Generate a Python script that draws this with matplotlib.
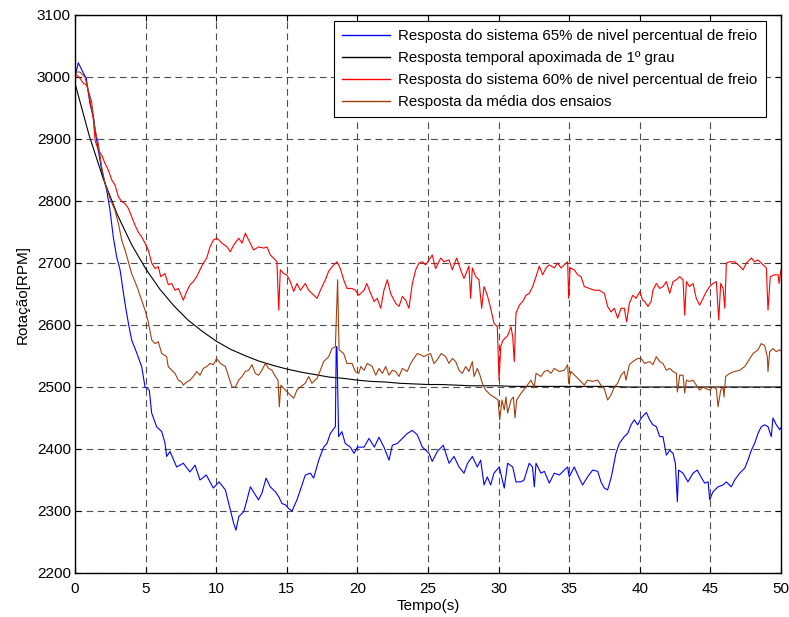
import numpy as np
import matplotlib
matplotlib.use("Agg")
import matplotlib.pyplot as plt

plt.rcParams['font.family'] = ['Liberation Sans', 'DejaVu Sans']

# ensaio com 65% de freio: (tempo [s], rotacao [RPM])
resp_65 = [
    (0, 3000), (0.23, 3023), (0.6, 3006), (0.8, 2998), (1.06, 2957), (1.3, 2936),
    (1.49, 2904), (1.89, 2850), (2.24, 2818), (2.48, 2785), (2.71, 2742), (2.95, 2710),
    (3.19, 2689), (3.54, 2635), (3.78, 2603), (4.01, 2576), (4.37, 2555), (4.72, 2533),
    (4.96, 2500), (5.26, 2495), (5.43, 2458), (5.78, 2436), (6.14, 2428), (6.37, 2410),
    (6.49, 2388), (6.73, 2396), (7.2, 2371), (7.67, 2377), (8.14, 2363), (8.5, 2374),
    (8.85, 2350), (9.3, 2358), (9.8, 2337), (10.2, 2347), (10.65, 2334), (11.0, 2302),
    (11.24, 2280), (11.4, 2269), (11.6, 2291), (11.95, 2299), (12.18, 2318), (12.42, 2339),
    (12.77, 2326), (13.0, 2318), (13.24, 2329), (13.53, 2353), (13.83, 2339), (14.19, 2331),
    (14.43, 2323), (14.66, 2312), (14.9, 2310), (15.13, 2304), (15.37, 2300), (15.72, 2318),
    (15.96, 2334), (16.31, 2358), (16.67, 2361), (16.9, 2353), (17.26, 2382), (17.61, 2403),
    (17.85, 2409), (18.08, 2425), (18.44, 2436), (18.5, 2565), (18.55, 2565), (18.67, 2420),
    (18.9, 2428), (19.14, 2409), (19.5, 2403), (19.76, 2393), (20.0, 2403), (20.47, 2403),
    (20.82, 2417), (21.2, 2403), (21.53, 2419), (21.88, 2403), (22.24, 2382), (22.47, 2406),
    (22.83, 2409), (23.18, 2417), (23.53, 2425), (23.89, 2430), (24.24, 2423), (24.6, 2403),
    (25.07, 2393), (25.3, 2380), (25.66, 2396), (26.08, 2406), (26.49, 2377), (26.84, 2388),
    (27.2, 2371), (27.55, 2361), (27.8, 2377), (28.14, 2388), (28.49, 2371), (28.73, 2382),
    (28.97, 2342), (29.2, 2355), (29.44, 2342), (29.67, 2361), (30.05, 2371), (30.4, 2337),
    (30.64, 2377), (31.0, 2371), (31.23, 2347), (31.59, 2347), (31.8, 2350), (32.17, 2377),
    (32.4, 2371), (32.53, 2339), (32.65, 2377), (33.0, 2361), (33.24, 2364), (33.59, 2345),
    (33.94, 2361), (34.3, 2358), (34.65, 2366), (34.89, 2371), (35.0, 2355), (35.36, 2371),
    (35.71, 2353), (35.95, 2342), (36.3, 2355), (36.66, 2366), (37.02, 2364), (37.25, 2347),
    (37.49, 2337), (37.72, 2334), (37.96, 2353), (38.08, 2366), (38.31, 2393), (38.55, 2409),
    (38.9, 2420), (39.14, 2425), (39.38, 2439), (39.61, 2447), (39.85, 2439), (40.1, 2450),
    (40.46, 2459), (40.7, 2447), (40.93, 2439), (41.17, 2436), (41.41, 2420), (41.64, 2420),
    (41.88, 2390), (42.12, 2398), (42.35, 2393), (42.52, 2377), (42.66, 2315), (42.75, 2366),
    (43.06, 2361), (43.41, 2347), (43.77, 2361), (44.07, 2366), (44.38, 2353), (44.6, 2345),
    (44.84, 2347), (44.95, 2318), (45.18, 2331), (45.54, 2339), (45.9, 2342), (46.13, 2347),
    (46.48, 2339), (46.72, 2350), (47.07, 2361), (47.43, 2369), (47.66, 2382), (47.9, 2398),
    (48.13, 2409), (48.37, 2425), (48.6, 2436), (48.84, 2439), (49.08, 2436), (49.31, 2420),
    (49.43, 2450), (49.67, 2439), (49.91, 2431), (50.0, 2435),
]

# modelo de 1a ordem, amostrado a cada 1 s
t_modelo = np.arange(0, 51)
rpm_modelo = [
    2990, 2906, 2836, 2778, 2730, 2691, 2658, 2631, 2608, 2590,
    2574, 2561, 2551, 2542, 2535, 2529, 2524, 2520, 2516, 2514,
    2511, 2509, 2508, 2506, 2505, 2504, 2504, 2503, 2502, 2502,
    2502, 2501, 2501, 2501, 2501, 2501, 2501, 2501, 2501, 2500,
    2500, 2500, 2500, 2500, 2500, 2500, 2500, 2500, 2500, 2500,
    2500,
]

# ensaio com 60% de freio
resp_60 = [
    (0, 3006), (0.35, 2998), (0.59, 2990), (0.83, 2987), (1.06, 2963), (1.3, 2931),
    (1.42, 2898), (1.65, 2882), (1.89, 2874), (2.12, 2861), (2.36, 2850), (2.6, 2834),
    (2.83, 2826), (3.07, 2807), (3.31, 2799), (3.54, 2796), (3.78, 2788), (4.01, 2775),
    (4.25, 2761), (4.48, 2750), (4.72, 2742), (4.96, 2732), (5.19, 2721), (5.43, 2700),
    (5.67, 2691), (5.9, 2694), (6.07, 2678), (6.37, 2683), (6.61, 2665), (6.85, 2667),
    (7.08, 2656), (7.32, 2659), (7.56, 2646), (7.67, 2640), (7.91, 2654), (8.15, 2665),
    (8.38, 2670), (8.62, 2678), (8.85, 2689), (9.09, 2700), (9.33, 2708), (9.56, 2726),
    (9.8, 2737), (10.06, 2740), (10.41, 2732), (10.77, 2726), (11.0, 2718), (11.24, 2729),
    (11.59, 2740), (11.83, 2732), (12.06, 2748), (12.3, 2737), (12.65, 2721), (13.0, 2726),
    (13.36, 2724), (13.6, 2726), (13.83, 2713), (14.19, 2705), (14.3, 2702), (14.43, 2624),
    (14.54, 2689), (14.78, 2683), (15.0, 2681), (15.25, 2670), (15.49, 2654), (15.72, 2667),
    (15.96, 2656), (16.31, 2667), (16.55, 2656), (16.78, 2651), (17.14, 2643), (17.38, 2656),
    (17.73, 2673), (17.97, 2687), (18.25, 2695), (18.56, 2702), (18.79, 2691), (19.03, 2673),
    (19.26, 2659), (19.62, 2659), (19.85, 2656), (20.1, 2648), (20.47, 2656), (20.66, 2667),
    (20.94, 2651), (21.18, 2638), (21.4, 2643), (21.65, 2627), (21.88, 2656), (22.12, 2673),
    (22.35, 2651), (22.71, 2635), (22.95, 2630), (23.18, 2646), (23.42, 2640), (23.65, 2627),
    (23.89, 2667), (24.13, 2689), (24.36, 2700), (24.6, 2702), (24.83, 2697), (25.07, 2705),
    (25.3, 2713), (25.54, 2691), (25.9, 2708), (26.13, 2702), (26.49, 2705), (26.72, 2689),
    (27.03, 2708), (27.31, 2689), (27.55, 2675), (27.9, 2695), (28.02, 2643), (28.14, 2692),
    (28.38, 2678), (28.61, 2673), (28.8, 2627), (28.97, 2662), (29.2, 2648), (29.44, 2627),
    (29.67, 2603), (29.91, 2597), (30.03, 2511), (30.15, 2565), (30.3, 2575), (30.64, 2583),
    (30.88, 2597), (31.0, 2581), (31.11, 2541), (31.23, 2619), (31.47, 2632), (31.71, 2638),
    (31.94, 2648), (32.17, 2651), (32.41, 2662), (32.65, 2678), (32.88, 2695), (33.12, 2681),
    (33.36, 2692), (33.59, 2697), (33.94, 2692), (34.18, 2700), (34.42, 2692), (34.65, 2697),
    (34.89, 2702), (34.96, 2643), (35.06, 2692), (35.36, 2689), (35.6, 2681), (35.84, 2678),
    (36.07, 2662), (36.43, 2659), (36.78, 2656), (37.14, 2656), (37.49, 2651), (37.72, 2630),
    (37.96, 2621), (38.2, 2627), (38.43, 2611), (38.67, 2627), (38.9, 2627), (39.07, 2605),
    (39.26, 2635), (39.5, 2648), (39.73, 2643), (40.01, 2654), (40.2, 2640), (40.34, 2638),
    (40.58, 2630), (40.8, 2638), (40.93, 2656), (41.17, 2667), (41.41, 2659), (41.64, 2662),
    (41.88, 2670), (42.12, 2651), (42.35, 2670), (42.59, 2673), (42.83, 2678), (43.06, 2673),
    (43.18, 2616), (43.3, 2670), (43.53, 2662), (43.77, 2667), (44.0, 2643), (44.24, 2632),
    (44.48, 2643), (44.71, 2654), (44.95, 2662), (45.18, 2667), (45.42, 2670), (45.59, 2608),
    (45.73, 2667), (45.9, 2659), (46.02, 2627), (46.13, 2700), (46.37, 2702), (46.72, 2702),
    (47.07, 2695), (47.31, 2689), (47.55, 2700), (47.9, 2708), (48.13, 2702), (48.37, 2705),
    (48.6, 2700), (48.84, 2695), (48.96, 2692), (49.08, 2624), (49.24, 2678), (49.55, 2681),
    (49.8, 2681), (49.86, 2667), (50.0, 2689),
]

# media dos ensaios
resp_media = [
    (0, 3008), (0.35, 3008), (0.7, 3000), (0.94, 2979), (1.18, 2960), (1.42, 2915),
    (1.65, 2893), (1.89, 2855), (2.12, 2829), (2.48, 2804), (2.83, 2785), (3.07, 2764),
    (3.31, 2737), (3.54, 2721), (3.78, 2702), (4.01, 2683), (4.25, 2670), (4.48, 2656),
    (4.72, 2640), (4.96, 2624), (5.19, 2605), (5.43, 2576), (5.67, 2570), (5.9, 2573),
    (6.14, 2554), (6.49, 2549), (6.6, 2533), (6.85, 2527), (7.08, 2522), (7.32, 2511),
    (7.56, 2508), (7.67, 2503), (7.91, 2508), (8.14, 2511), (8.38, 2517), (8.62, 2525),
    (8.85, 2519), (9.09, 2530), (9.33, 2533), (9.56, 2538), (9.8, 2536), (10.03, 2546),
    (10.3, 2538), (10.65, 2533), (10.88, 2517), (11.12, 2500), (11.36, 2500), (11.59, 2511),
    (11.83, 2517), (12.06, 2525), (12.3, 2527), (12.53, 2536), (12.77, 2522), (13.0, 2519),
    (13.24, 2527), (13.48, 2538), (13.71, 2530), (13.95, 2527), (14.19, 2517), (14.38, 2511),
    (14.47, 2468), (14.58, 2503), (14.9, 2495), (15.13, 2490), (15.49, 2482), (15.72, 2495),
    (15.96, 2500), (16.31, 2506), (16.55, 2517), (16.78, 2506), (17.14, 2514), (17.38, 2527),
    (17.61, 2541), (17.97, 2549), (18.2, 2562), (18.44, 2565), (18.6, 2673), (18.7, 2560),
    (19.03, 2554), (19.26, 2538), (19.62, 2538), (19.85, 2525), (20.1, 2522), (20.24, 2533),
    (20.47, 2527), (20.7, 2538), (21.05, 2533), (21.3, 2519), (21.53, 2530), (21.77, 2522),
    (22.0, 2533), (22.24, 2519), (22.47, 2527), (22.71, 2525), (22.95, 2517), (23.18, 2530),
    (23.53, 2525), (23.77, 2538), (24.0, 2546), (24.24, 2554), (24.48, 2552), (24.71, 2549),
    (24.95, 2552), (25.18, 2554), (25.42, 2538), (25.66, 2544), (25.94, 2554), (26.25, 2549),
    (26.49, 2538), (26.72, 2546), (26.96, 2541), (27.2, 2527), (27.43, 2522), (27.67, 2533),
    (27.9, 2525), (28.14, 2541), (28.26, 2517), (28.49, 2530), (28.68, 2519), (28.85, 2506),
    (29.08, 2495), (29.44, 2487), (29.67, 2484), (29.96, 2479), (30.08, 2447), (30.24, 2479),
    (30.4, 2463), (30.52, 2484), (30.64, 2458), (30.88, 2479), (31.05, 2484), (31.16, 2450),
    (31.28, 2479), (31.59, 2490), (31.94, 2500), (32.29, 2511), (32.53, 2500), (32.65, 2522),
    (33.0, 2517), (33.24, 2525), (33.47, 2527), (33.71, 2522), (33.94, 2530), (34.3, 2525),
    (34.65, 2527), (34.89, 2536), (34.96, 2506), (35.12, 2525), (35.47, 2517), (35.83, 2509),
    (36.07, 2503), (36.3, 2511), (36.66, 2509), (37.02, 2511), (37.25, 2503), (37.49, 2497),
    (37.72, 2479), (37.96, 2487), (38.2, 2500), (38.43, 2506), (38.67, 2519), (38.9, 2525),
    (39.02, 2511), (39.26, 2536), (39.5, 2541), (39.85, 2546), (40.1, 2546), (40.34, 2538),
    (40.7, 2541), (40.93, 2536), (41.17, 2549), (41.41, 2541), (41.64, 2538), (41.88, 2527),
    (42.12, 2530), (42.35, 2525), (42.59, 2522), (42.66, 2492), (42.83, 2519), (43.06, 2519),
    (43.18, 2490), (43.3, 2511), (43.53, 2509), (43.77, 2511), (44.0, 2503), (44.24, 2495),
    (44.48, 2500), (44.71, 2497), (44.95, 2495), (45.18, 2500), (45.42, 2497), (45.54, 2468),
    (45.73, 2495), (45.9, 2500), (45.96, 2484), (46.08, 2517), (46.37, 2522), (46.72, 2525),
    (47.07, 2527), (47.43, 2533), (47.66, 2541), (48.02, 2554), (48.37, 2560), (48.6, 2570),
    (48.84, 2567), (49.03, 2549), (49.08, 2525), (49.2, 2557), (49.43, 2562), (49.67, 2557),
    (49.91, 2560), (50.0, 2558),
]

labels = [
    'Resposta do sistema 65% de nivel percentual de freio',
    'Resposta temporal apoximada de 1º grau',
    'Resposta do sistema 60% de nivel percentual de freio',
    'Resposta da média dos ensaios',
]

x_ticks = np.arange(0, 51, 5)
y_ticks = np.arange(2200, 3101, 100)

fig = plt.figure(figsize=(7.89, 6.17), dpi=100)
ax = fig.add_axes([75 / 789, 1 - 573 / 617, 706 / 789, 558 / 617])

t65, r65 = np.array(resp_65).T
t60, r60 = np.array(resp_60).T
tm, rm = np.array(resp_media).T

lw = 0.8
ax.plot(t65, r65, color='#0000ff', lw=lw, label=labels[0])
ax.plot(t_modelo, rpm_modelo, color='black', lw=lw, label=labels[1])
ax.plot(t60, r60, color='#ff0000', lw=lw, label=labels[2])
ax.plot(tm, rm, color='#a0400f', lw=lw, label=labels[3])

ax.set_xlim(0, 50)
ax.set_ylim(2200, 3100)
ax.set_xticks(x_ticks)
ax.set_yticks(y_ticks)
ax.tick_params(direction='in', top=True, right=True, length=4, width=0.8,
               labelsize=11)
ax.tick_params(axis='x', pad=6.5)
ax.tick_params(axis='y', pad=3)
ax.grid(True, color='0.3', lw=0.8, linestyle=(0, (6, 4)))
for s in ax.spines.values():
    s.set_linewidth(1.0)

ax.set_xlabel('Tempo(s)', fontsize=11, labelpad=2)
ax.set_ylabel('Rotação[RPM]', fontsize=11, labelpad=5)

leg = ax.legend(loc='upper right', bbox_to_anchor=(766 / 789, 1 - 21 / 617),
                bbox_transform=fig.transFigure, borderaxespad=0, fontsize=10.8,
                handlelength=3.2, labelspacing=0.53, borderpad=0.55,
                handletextpad=0.55, fancybox=False, framealpha=1)
leg.get_frame().set_edgecolor('black')
leg.get_frame().set_linewidth(0.8)
for h in leg.get_lines():
    h.set_linewidth(1.0)

fig.savefig('out.png', dpi=100)
